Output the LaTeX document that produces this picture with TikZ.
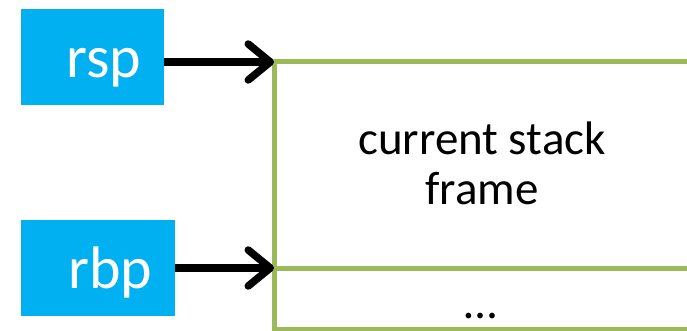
\documentclass[tikz,border=0pt]{standalone}
\usepackage{fontspec}
\setmainfont{Carlito}
\usetikzlibrary{arrows.meta,positioning}
\definecolor{regblue}{HTML}{00B0F0}
\definecolor{framegreen}{HTML}{9BBB59}
\begin{document}
\begin{tikzpicture}[x=1pt,y=-1pt,
    reg/.style={fill=regblue,text=white,anchor=north west,align=right,
        inner xsep=23pt,inner ysep=0pt,text height=68pt,text depth=28pt,
        font=\fontsize{60}{72}\selectfont},
    ptr/.style={line width=7.5pt,-{Straight Barb[length=22pt,width=36pt,line cap=round,line join=round]}},
    slot/.style={draw=framegreen,line width=5pt}]
    \def\fx{274}
    \useasboundingbox (0,0) rectangle (687,331);
    \clip (0,0) rectangle (687,331);
    %% registers
    \node[reg,text width=97pt] (rsp) at (21,9) {rsp};
    \node[reg,text width=108pt] (rbp) at (21,220) {rbp};
    %% stack frame
    \coordinate (top) at (\fx,62);
    \coordinate (base) at (\fx,268);
    \draw[slot] (top) rectangle (700,329);
    \draw[slot] (base) -- (700,268);
    \node[align=center,font=\fontsize{47}{50}\selectfont] (cur) at (482,163) {current stack\\frame};
    \node[anchor=base,font=\fontsize{47}{48}\selectfont] (more) at (481,318) {…};
    %% pointers
    \draw[ptr] (rsp.east |- top) -- (top);
    \draw[ptr] (rbp.east |- base) -- (base);
\end{tikzpicture}
\end{document}
